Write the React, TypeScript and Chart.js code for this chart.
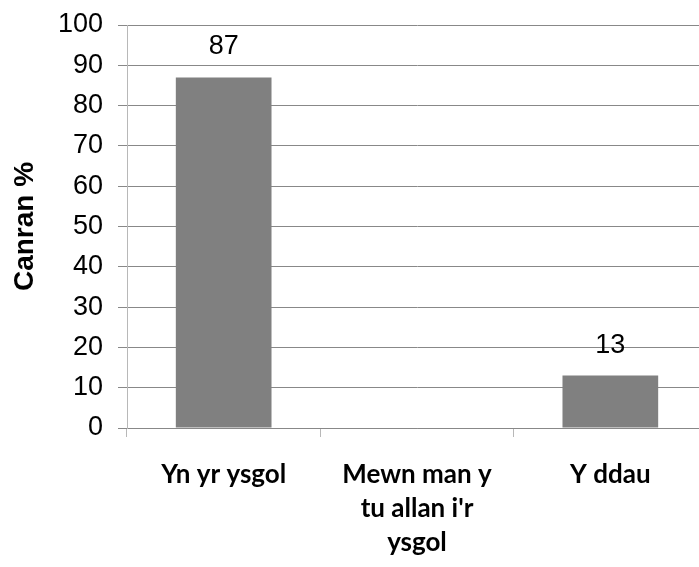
import React, { useEffect, useRef } from "react";
import { Chart, registerables } from "chart.js";

Chart.register(...registerables);

const categories: string[][] = [["Yn yr ysgol"], ["Mewn man y", "tu allan i'r", "ysgol"], ["Y ddau"]];
const values: number[] = [87, 0, 13];
const yTicks: number[] = [0, 10, 20, 30, 40, 50, 60, 70, 80, 90, 100];
const yTitle = "Canran %";

const valueLabels = {
  id: "valueLabels",
  afterDatasetsDraw(chart: any) {
    const ctx = chart.ctx;
    const meta = chart.getDatasetMeta(0);
    ctx.save();
    ctx.font = "27px 'Liberation Sans', Arial, sans-serif";
    ctx.fillStyle = "#000";
    ctx.textAlign = "center";
    ctx.textBaseline = "alphabetic";
    meta.data.forEach((bar: any, i: number) => {
      const v = values[i];
      if (!v) return;
      ctx.fillText(String(v), bar.x, bar.y - 23);
    });
    ctx.restore();
  },
};

export default function App() {
  const ref = useRef<HTMLCanvasElement | null>(null);
  useEffect(() => {
    if (!ref.current) return;
    const chart = new Chart(ref.current, {
      type: "bar",
      data: {
        labels: categories,
        datasets: [
          {
            data: values,
            backgroundColor: "#808080",
            borderWidth: 0,
            categoryPercentage: 1,
            barPercentage: 0.495,
          },
        ],
      },
      options: {
        responsive: false,
        animation: false,
        layout: { padding: { left: 0, right: 1, top: 25, bottom: 0 } },
        plugins: { legend: { display: false }, tooltip: { enabled: false } },
        scales: {
          x: {
            offset: true,
            grid: {
              display: true,
              offset: true,
              drawOnChartArea: false,
              drawTicks: true,
              tickLength: 9,
              color: "#b8b8b8",
            },
            border: { display: true, color: "#888888" },
            ticks: {
              color: "#000",
              padding: 20,
              font: { family: "Lato, 'Open Sans', sans-serif", size: 26, weight: "bold", lineHeight: 1.32 },
              maxRotation: 0,
              autoSkip: false,
            },
            afterFit: (scale: any) => {
              scale.height = 139;
              scale.paddingLeft = 0;
              scale.paddingRight = 0;
            },
          },
          y: {
            min: 0,
            max: 100,
            afterBuildTicks: (scale: any) => {
              scale.ticks = yTicks.map((v) => ({ value: v }));
            },
            grid: {
              color: "#888888",
              tickLength: 9,
              drawTicks: true,
            },
            border: { display: true, color: "#b8b8b8" },
            ticks: {
              color: "#000",
              padding: 15,
              font: { family: "'Liberation Sans', Arial, sans-serif", size: 27 },
            },
            title: {
              display: true,
              text: yTitle,
              color: "#000",
              font: { family: "'Liberation Sans', Arial, sans-serif", size: 28, weight: "bold" },
              padding: { top: 8, bottom: 0 },
            },
            afterFit: (scale: any) => {
              scale.width = 127;
              scale.paddingTop = 0;
              scale.paddingBottom = 0;
            },
          },
        },
      },
      plugins: [valueLabels],
    });
    return () => chart.destroy();
  }, []);
  return (
    <div style={{ position: "fixed", left: 0, top: 0, width: 699, height: 567, overflow: "hidden", background: "#fff" }}>
      <canvas ref={ref} width={708} height={567} style={{ display: "block" }} />
    </div>
  );
}
